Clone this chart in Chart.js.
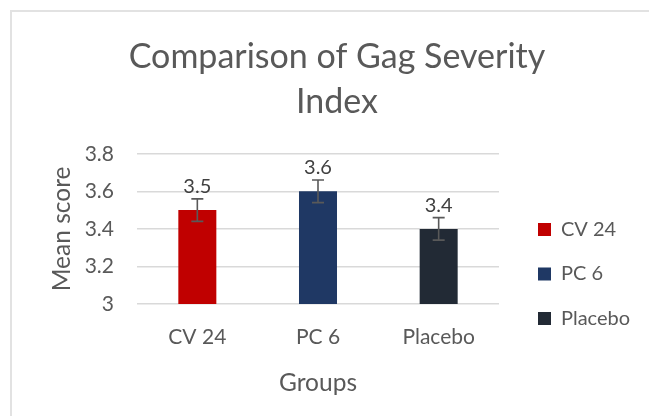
<!DOCTYPE html>
<html>
<head>
<meta charset="utf-8">
<script src="https://cdn.jsdelivr.net/npm/chart.js@4.4.1/dist/chart.umd.min.js"></script>
<style>
  html, body { margin: 0; padding: 0; background: #ffffff; overflow: hidden; width: 649px; height: 416px; }
  #frame { position: absolute; left: 10px; top: 10px; width: 700px; height: 460px;
           border-left: 2px solid #e2e2e2; border-top: 2px solid #e2e2e2; }
  #wrap { position: absolute; left: 12px; top: 12px; width: 650px; height: 420px; }
</style>
</head>
<body>
<div id="frame"></div>
<div id="wrap"><canvas id="c" width="650" height="420"></canvas></div>
<script>
const categories = ['CV 24', 'PC 6', 'Placebo'];
const meanScores = [3.5, 3.6, 3.4];
const errorMargins = [0.06, 0.06, 0.06];
const yTickValues = [3, 3.2, 3.4, 3.6, 3.8];
const barColors = ['#C00000', '#1F3864', '#222A35'];
const chartTitle = ['Comparison of Gag Severity', 'Index'];
const yAxisTitle = 'Mean score';
const xAxisTitle = 'Groups';

const FONT = 'Lato';
const LEGEND_WIDTH = 148.5;

const errorAndLabelPlugin = {
  id: 'errorAndLabel',
  beforeLayout(chart) {
    const lg = chart.legend;
    if (lg && !lg._fixedWidth) {
      const origFit = lg.fit;
      lg.fit = function () { origFit.call(this); this.width = LEGEND_WIDTH; };
      lg._fixedWidth = true;
    }
  },
  afterDatasetsDraw(chart) {
    const ctx = chart.ctx;
    const meta = chart.getDatasetMeta(0);
    const yScale = chart.scales.y;
    ctx.save();
    meta.data.forEach((bar, i) => {
      const v = meanScores[i];
      const e = errorMargins[i];
      const yTop = yScale.getPixelForValue(v + e);
      const yBot = yScale.getPixelForValue(v - e);
      const x = bar.x;
      const cap = 6;
      ctx.strokeStyle = '#595959';
      ctx.lineWidth = 1.6;
      ctx.beginPath();
      ctx.moveTo(x, yTop); ctx.lineTo(x, yBot);
      ctx.moveTo(x - cap, yTop); ctx.lineTo(x + cap, yTop);
      ctx.moveTo(x - cap, yBot); ctx.lineTo(x + cap, yBot);
      ctx.stroke();
      ctx.fillStyle = '#404040';
      ctx.font = '20px ' + FONT;
      ctx.textAlign = 'center';
      ctx.textBaseline = 'alphabetic';
      ctx.fillText(String(v), x, bar.y - 17);
    });
    ctx.restore();
  }
};

new Chart(document.getElementById('c'), {
  type: 'bar',
  data: {
    labels: categories,
    datasets: [{
      label: 'Mean score',
      data: meanScores,
      backgroundColor: barColors,
      borderWidth: 0,
      categoryPercentage: 1.0,
      barPercentage: 0.315
    }]
  },
  options: {
    responsive: false,
    animation: false,
    devicePixelRatio: 1,
    layout: { padding: 0 },
    plugins: {
      title: {
        display: true,
        text: chartTitle,
        color: '#595959',
        font: { family: FONT, size: 34, weight: 'normal', lineHeight: 1.32 },
        padding: { top: 23, bottom: 29 }
      },
      legend: {
        display: true,
        position: 'right',
        onClick: null,
        title: { display: true, text: ' ', font: { family: FONT, size: 10, lineHeight: 1 },
                 padding: { top: 94, bottom: 0 } },
        labels: {
          boxWidth: 13,
          boxHeight: 13,
          padding: 24.5,
          color: '#595959',
          font: { family: FONT, size: 20 },
          generateLabels: (chart) => categories.map((c, i) => ({
            text: c, fillStyle: barColors[i], strokeStyle: barColors[i],
            lineWidth: 0, hidden: false, index: i, fontColor: '#595959'
          }))
        }
      },
      tooltip: { enabled: false }
    },
    scales: {
      x: {
        grid: { display: false },
        border: { display: false },
        ticks: { color: '#595959', font: { family: FONT, size: 21 }, padding: 13 },
        title: { display: true, text: xAxisTitle, color: '#595959',
                 font: { family: FONT, size: 24.5 }, padding: { top: 0, bottom: 34.5 } },
        afterFit: (s) => { s.height = 128; }
      },
      y: {
        min: 3, max: 3.8,
        grid: { color: '#d9d9d9', lineWidth: 1.5, drawTicks: false },
        border: { display: false },
        afterBuildTicks: (s) => { s.ticks = yTickValues.map(v => ({ value: v })); },
        ticks: { color: '#595959', font: { family: FONT, size: 21 }, padding: 23,
                 callback: (v) => String(parseFloat(Number(v).toFixed(1))) },
        title: { display: true, text: yAxisTitle, color: '#595959',
                 font: { family: FONT, size: 24.5 }, padding: { top: 35.5, bottom: 0 } },
        afterFit: (s) => { s.width = 125; }
      },
      spacerInner: {
        type: 'linear',
        position: 'right',
        display: true,
        weight: 0,
        grid: { display: false, drawTicks: false },
        border: { display: false },
        ticks: { display: false },
        afterFit: (s) => { s.width = 14.5; }
      }
    }
  },
  plugins: [errorAndLabelPlugin]
});
</script>
</body>
</html>
